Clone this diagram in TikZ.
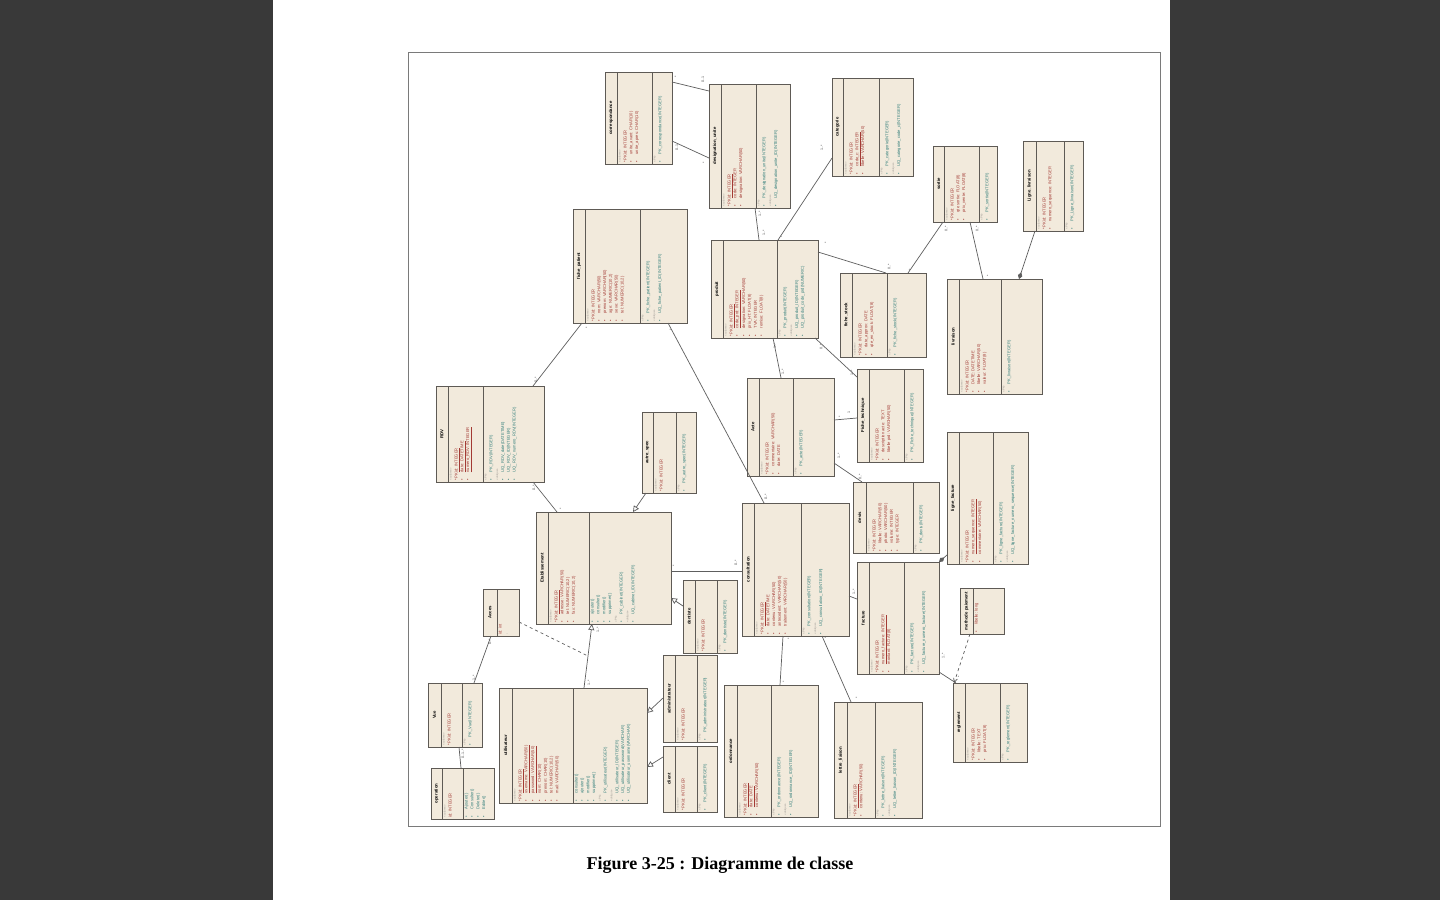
\documentclass[tikz,border=0pt]{standalone}
\usepackage{fontspec}
\setmainfont{Liberation Serif}
\newfontfamily\umlfont{Liberation Sans}
\usetikzlibrary{arrows.meta,calc}

\definecolor{sidegray}{HTML}{393939}
\definecolor{boxfill}{HTML}{F2EADC}
\definecolor{boxline}{HTML}{5E5A55}
\definecolor{attred}{HTML}{A33A34}
\definecolor{opteal}{HTML}{337F7B}
\definecolor{stgray}{HTML}{A09C96}
\definecolor{conncol}{HTML}{5E5E5E}
\definecolor{framegray}{HTML}{7A7A7A}

\newcommand\Cls[8]{%
  \node[clsbox, minimum width={(#4-#2)*1pt}, minimum height={(#5-#3)*1pt}] (#1) at ({(#2+#4)/2},{(#3+#5)/2}) {};
  \draw[divline] (#6,#3) -- (#6,#5);
  \draw[divline] (#7,#3) -- (#7,#5);
  \node[clstitle] (#1-t) at ({(#2+#6)/2},{(#3+#5)/2}) {#8};}
\newcommand\Col[4]{\node[coltext] (#1) at (#2,#3) {#4};}
\newcommand\M[4]{\node[mult] (#1) at (#2,#3) {#4};}
\newcommand\stt[1]{{\color{stgray}\fontsize{2.8}{3}\selectfont «#1»}}
\newcommand\pk{\makebox[8pt][l]{*PK}}
\newcommand\bu{\makebox[8pt][l]{•}}
\newcommand\cA[1]{\textcolor{attred}{#1}}
\newcommand\cO[1]{\textcolor{opteal}{#1}}

\begin{document}
\begin{tikzpicture}[x=1pt,y=-1pt,
  clsbox/.style={draw=boxline, fill=boxfill, line width=1pt, inner sep=0pt, outer sep=0pt, rectangle},
  divline/.style={draw=boxline, line width=0.9pt},
  clstitle/.style={rotate=90, inner sep=0pt, font=\umlfont\bfseries\fontsize{4.3}{5}\selectfont},
  coltext/.style={rotate=90, anchor=north west, align=left, inner sep=1.5pt, font=\umlfont\fontsize{4.1}{5.8}\selectfont},
  mult/.style={rotate=90, inner sep=0.5pt, text=black!70, font=\umlfont\fontsize{3.6}{4}\selectfont},
  conn/.style={draw=conncol, line width=0.7pt},
  gen/.style={-{Triangle[open,length=6pt,width=6pt,fill=white]}},
  comp/.style={-{Diamond[length=7pt,width=4.5pt]}},
  dep/.style={dashed, -{Straight Barb[length=4pt,width=4pt]}}]
\useasboundingbox (0,0) rectangle (1440,900);
\fill[sidegray] (0,0) rectangle (1440,900);
\fill[white] (273,0) rectangle (1170,900);
\node[draw=framegray, line width=0.8pt, minimum width=752pt, minimum height=774pt, inner sep=0pt, outer sep=0pt] (frame) at (784,439) {};

% ---------- classes ----------
\Cls{cor}{605}{72}{672}{164}{617}{652}{correspondance}
\Col{cor-a}{617}{164}{\stt{column}\\\cA{\pk id: INTEGER}\\\cA{\bu unite\_avant: CHAR(10)}\\\cA{\bu unite\_apres: CHAR(10)}}
\Col{cor-o}{652}{164}{\stt{PK}\\\cO{\bu PK\_correspondance(INTEGER)}}

\Cls{des}{709}{84}{790}{208}{721}{756}{designation\_unite}
\Col{des-a}{721}{208}{\stt{column}\\\cA{\pk \underline{id: INTEGER}}\\\cA{\bu code: INTEGER}\\\cA{\bu designation: VARCHAR(50)}}
\Col{des-o}{756}{208}{\stt{PK}\\\cO{\bu PK\_designation\_unite(INTEGER)}\\\stt{unique}\\\cO{\bu UQ\_designation\_unite\_ID(INTEGER)}}

\Cls{cat}{832}{78}{913}{176}{843}{879}{categorie}
\Col{cat-a}{843}{176}{\stt{column}\\\cA{\pk id: INTEGER}\\\cA{\bu \underline{code\_c: INTEGER}}\\\cA{\bu libelle: VARCHAR(50)}}
\Col{cat-o}{879}{176}{\stt{PK}\\\cO{\bu PK\_categorie(INTEGER)}\\\stt{unique}\\\cO{\bu UQ\_categorie\_code\_c(INTEGER)}}

\Cls{sor}{933}{146}{997}{222}{944}{979}{sortie}
\Col{sor-a}{944}{222}{\stt{column}\\\cA{\pk id: INTEGER}\\\cA{\bu qte sortie: FLOAT(8)}\\\cA{\bu prix\_vente: FLOAT(8)}}
\Col{sor-o}{979}{222}{\stt{PK}\\\cO{\bu PK\_sortie(INTEGER)}}

\Cls{lli}{1023}{141}{1083}{231}{1036}{1064}{Ligne\_livraison}
\Col{lli-a}{1036}{231}{\stt{column}\\\cA{\pk id: INTEGER}\\\cA{\bu numero\_sequence: INTEGER}}
\Col{lli-o}{1064}{231}{\stt{PK}\\\cO{\bu PK\_Ligne\_livraison(INTEGER)}}

\Cls{fp}{573}{209}{687}{323}{585}{640}{fiche\_patient}
\Col{fp-a}{585}{323}{\stt{column}\\\cA{\pk id: INTEGER}\\\cA{\bu nom: VARCHAR(50)}\\\cA{\bu prenom: VARCHAR(50)}\\\cA{\bu age: NUMERIC(10,2)}\\\cA{\bu sexe: VARCHAR(50)}\\\cA{\bu tel: NUMERIC(10,2)}}
\Col{fp-o}{640}{323}{\stt{PK}\\\cO{\bu PK\_fiche\_patient(INTEGER)}\\\stt{unique}\\\cO{\bu UQ\_fiche\_patient\_ID(INTEGER)}}

\Cls{pro}{711}{240}{818}{338}{723}{777}{produit}
\Col{pro-a}{723}{338}{\stt{column}\\\cA{\pk \underline{id: INTEGER}}\\\cA{\bu \underline{code\_prd: INTEGER}}\\\cA{\bu designation: VARCHAR(50)}\\\cA{\bu prix\_HT: FLOAT(8)}\\\cA{\bu TVA: INTEGER}\\\cA{\bu remise: FLOAT(8)}}
\Col{pro-o}{777}{338}{\stt{PK}\\\cO{\bu PK\_produit(INTEGER)}\\\stt{unique}\\\cO{\bu UQ\_produit\_ID(INTEGER)}\\\cO{\bu UQ\_produit\_code\_prd(NUMERIC)}}

\Cls{fs}{840}{273}{926}{357}{852}{887}{fiche\_stock}
\Col{fs-a}{852}{357}{\stt{column}\\\cA{\pk id: INTEGER}\\\cA{\bu date\_approv: DATE}\\\cA{\bu qte\_en\_stock: FLOAT(8)}}
\Col{fs-o}{887}{357}{\stt{PK}\\\cO{\bu PK\_fiche\_stock(INTEGER)}}

\Cls{liv}{947}{279}{1042}{394}{959}{1001}{livraison}
\Col{liv-a}{959}{394}{\stt{column}\\\cA{\pk id: INTEGER}\\\cA{\bu DATE: DATETIME}\\\cA{\bu libelle: VARCHAR(50)}\\\cA{\bu valeur: FLOAT(8)}}
\Col{liv-o}{1001}{394}{\stt{PK}\\\cO{\bu PK\_livraison(INTEGER)}}

\Cls{rdv}{436}{386}{544}{482}{448}{483}{RDV}
\Col{rdv-a}{448}{482}{\stt{column}\\\cA{\pk \underline{id: INTEGER}}\\\cA{\bu \underline{date: DATETIME}}\\\cA{\bu \underline{numero\_RDV: INTEGER}}}
\Col{rdv-o}{483}{482}{\stt{PK}\\\cO{\bu PK\_RDV(INTEGER)}\\\stt{unique}\\\cO{\bu UQ\_RDV\_date(DATETIME)}\\\cO{\bu UQ\_RDV\_ID(INTEGER)}\\\cO{\bu UQ\_RDV\_numero\_RDV(INTEGER)}}

\Cls{aut}{642}{412}{696}{493}{653}{676}{autre\_spec}
\Col{aut-a}{653}{493}{\stt{column}\\\cA{\pk id: INTEGER}}
\Col{aut-o}{676}{493}{\stt{PK}\\\cO{\bu PK\_autre\_spec(INTEGER)}}

\Cls{act}{747}{378}{834}{476}{759}{793}{Acte}
\Col{act-a}{759}{476}{\stt{column}\\\cA{\pk id: INTEGER}\\\cA{\bu commentaire: VARCHAR(50)}\\\cA{\bu date: DATE}}
\Col{act-o}{793}{476}{\stt{PK}\\\cO{\bu PK\_acte(INTEGER)}}

\Cls{ft}{857}{369}{923}{462}{869}{904}{Fiche\_technique}
\Col{ft-a}{869}{462}{\stt{column}\\\cA{\pk id: INTEGER}\\\cA{\bu description acte: TEXT}\\\cA{\bu libelle prd: VARCHAR(50)}}
\Col{ft-o}{904}{462}{\stt{PK}\\\cO{\bu PK\_Fiche\_technique(INTEGER)}}

\Cls{dev}{853}{482}{939}{553}{866}{913}{devis}
\Col{dev-a}{866}{553}{\stt{column}\\\cA{\pk id: INTEGER}\\\cA{\bu libelle: VARCHAR(50)}\\\cA{\bu photo: VARCHAR(50)}\\\cA{\bu volume: INTEGER}\\\cA{\bu type: INTEGER}}
\Col{dev-o}{913}{553}{\stt{PK}\\\cO{\bu PK\_devis(INTEGER)}}

\Cls{lf}{947}{432}{1028}{564}{959}{993}{ligne\_facture}
\Col{lf-a}{959}{564}{\stt{column}\\\cA{\pk id: INTEGER}\\\cA{\bu \underline{numero\_sequence: INTEGER}}\\\cA{\bu commentaire: VARCHAR(50)}}
\Col{lf-o}{993}{564}{\stt{PK}\\\cO{\bu PK\_ligne\_facture(INTEGER)}\\\stt{unique}\\\cO{\bu UQ\_ligne\_facture\_numero\_sequence(INTEGER)}}

\Cls{eta}{536}{512}{671}{624}{548}{589}{Etablissement}
\Col{eta-a}{548}{624}{\stt{column}\\\cA{\pk \underline{id: INTEGER}}\\\cA{\bu adresse: VARCHAR(50)}\\\cA{\bu tel: NUMERIC(10,2)}\\\cA{\bu fax: NUMERIC(10,2)}}
\Col{eta-o}{589}{624}{\cO{\bu ajouter()}\\\cO{\bu consulter()}\\\cO{\bu modifier()}\\\cO{\bu supprimer()}\\\stt{PK}\\\cO{\bu PK\_cabinet(INTEGER)}\\\stt{unique}\\\cO{\bu UQ\_cabinet\_ID(INTEGER)}}

\Cls{con}{742}{503}{849}{636}{754}{801}{consultation}
\Col{con-a}{754}{636}{\stt{column}\\\cA{\pk \underline{id: INTEGER}}\\\cA{\bu date: DATETIME}\\\cA{\bu contenu: VARCHAR(50)}\\\cA{\bu antecedent: VARCHAR(50)}\\\cA{\bu traitement: VARCHAR(50)}}
\Col{con-o}{801}{636}{\stt{PK}\\\cO{\bu PK\_consultation(INTEGER)}\\\stt{unique}\\\cO{\bu UQ\_consultation\_ID(INTEGER)}}

\Cls{den}{683}{580}{737}{653}{695}{717}{dentiste}
\Col{den-a}{695}{653}{\stt{column}\\\cA{\pk id: INTEGER}}
\Col{den-o}{717}{653}{\stt{PK}\\\cO{\bu PK\_dentiste(INTEGER)}}

\Cls{fac}{857}{562}{939}{674}{869}{904}{facture}
\Col{fac-a}{869}{674}{\stt{column}\\\cA{\pk id: INTEGER}\\\cA{\bu \underline{numero\_facture: INTEGER}}\\\cA{\bu montant: FLOAT(8)}}
\Col{fac-o}{904}{674}{\stt{PK}\\\cO{\bu PK\_facture(INTEGER)}\\\stt{unique}\\\cO{\bu UQ\_facture\_numero\_facture(INTEGER)}}

\Cls{mp}{960}{588}{1004}{634}{973}{973}{methode paiement}
\Col{mp-a}{973}{634}{\cA{\bu libelle: long}}

\Cls{reg}{953}{683}{1027}{762}{965}{1000}{reglement}
\Col{reg-a}{965}{762}{\stt{column}\\\cA{\pk id: INTEGER}\\\cA{\bu libelle: TEXT}\\\cA{\bu prix: FLOAT(8)}}
\Col{reg-o}{1000}{762}{\stt{PK}\\\cO{\bu PK\_reglement(INTEGER)}}

\Cls{acc}{483}{589}{519}{636}{497}{497}{Acces}
\Col{acc-a}{497}{636}{\cA{id: int}\\ \textcolor{black!60}{.}}

\Cls{vue}{428}{683}{482}{747}{441}{462}{Vue}
\Col{vue-a}{441}{747}{\stt{column}\\\cA{\pk id: INTEGER}}
\Col{vue-o}{462}{747}{\stt{PK}\\\cO{\bu PK\_Vue(INTEGER)}}

\Cls{ope}{431}{768}{494}{819}{442}{463}{operation}
\Col{ope-a}{442}{819}{\stt{column}\\\cA{id: INTEGER}}
\Col{ope-o}{463}{819}{\cO{\bu Ajouter()}\\\cO{\bu Consulter()}\\\cO{\bu Deleter()}\\\cO{\bu Editer()}}

\Cls{uti}{499}{688}{647}{803}{512}{573}{utilisateur}
\Col{uti-a}{512}{803}{\stt{column}\\\cA{\pk \underline{id: INTEGER}}\\\cA{\bu \underline{username: VARCHAR(50)}}\\\cA{\bu \underline{password: VARCHAR(50)}}\\\cA{\bu nom: CHAR(10)}\\\cA{\bu prenom: CHAR(10)}\\\cA{\bu tel: NUMERIC(10,2)}\\\cA{\bu mail: VARCHAR(50)}}
\Col{uti-o}{573}{803}{\cO{\bu consulter()}\\\cO{\bu ajouter()}\\\cO{\bu modifier()}\\\cO{\bu supprimer()}\\\stt{PK}\\\cO{\bu PK\_utilisateur(INTEGER)}\\\stt{unique}\\\cO{\bu UQ\_utilisateur\_ID(INTEGER)}\\\cO{\bu UQ\_utilisateur\_password(VARCHAR)}\\\cO{\bu UQ\_utilisateur\_username(VARCHAR)}}

\Cls{adm}{663}{655}{717}{742}{675}{697}{administrateur}
\Col{adm-a}{675}{742}{\stt{column}\\\cA{\pk id: INTEGER}}
\Col{adm-o}{697}{742}{\stt{PK}\\\cO{\bu PK\_administrateur(INTEGER)}}

\Cls{cli}{663}{746}{717}{812}{675}{697}{client}
\Col{cli-a}{675}{812}{\stt{column}\\\cA{\pk id: INTEGER}}
\Col{cli-o}{697}{812}{\stt{PK}\\\cO{\bu PK\_client(INTEGER)}}

\Cls{ord}{724}{685}{818}{817}{737}{771}{ordonnance}
\Col{ord-a}{737}{817}{\stt{column}\\\cA{\pk \underline{id: INTEGER}}\\\cA{\bu \underline{date: DATE}}\\\cA{\bu contenu: VARCHAR(50)}}
\Col{ord-o}{771}{817}{\stt{PK}\\\cO{\bu PK\_ordonnance(INTEGER)}\\\stt{unique}\\\cO{\bu UQ\_ordonnance\_ID(INTEGER)}}

\Cls{ll}{834}{702}{922}{818}{847}{875}{lettre\_liaison}
\Col{ll-a}{847}{818}{\stt{column}\\\cA{\pk \underline{id: INTEGER}}\\\cA{\bu contenu: VARCHAR(50)}}
\Col{ll-o}{875}{818}{\stt{PK}\\\cO{\bu PK\_lettre\_liaison(INTEGER)}\\\stt{unique}\\\cO{\bu UQ\_lettre\_liaison\_ID(INTEGER)}}

% ---------- connectors ----------
\draw[conn] ($(cor.north west)+(67,10)$) -- ($(des.north west)+(0,7)$);
\draw[conn] ($(cor.north west)+(67,69)$) -- ($(des.north west)+(0,74)$);
\draw[conn] ($(des.north west)+(46,124)$) -- ($(pro.north west)+(48,0)$);
\draw[conn] ($(cat.north west)+(0,80)$) -- ($(pro.north west)+(67,0)$);
\draw[conn] ($(pro.north west)+(107,12)$) -- ($(fs.north west)+(46,0)$);
\draw[conn] ($(sor.north west)+(10,76)$) -- ($(fs.north west)+(68,0)$);
\draw[conn] ($(sor.north west)+(37,76)$) -- ($(liv.north west)+(36,0)$);
\draw[conn, comp] ($(lli.north west)+(12,90)$) -- ($(liv.north west)+(72,0)$);
\draw[conn] ($(pro.north west)+(62,98)$) -- ($(act.north west)+(34,0)$);
\draw[conn] ($(pro.north west)+(104,98)$) -- ($(ft.north west)+(0,8)$);
\draw[conn] ($(act.north west)+(87,42)$) -- ($(ft.north west)+(0,49)$);
\draw[conn] ($(act.north west)+(87,85)$) -- ($(dev.north west)+(9,0)$);
\draw[conn] ($(fp.north west)+(9,114)$) -- ($(rdv.north west)+(97,0)$);
\draw[conn] ($(fp.north west)+(95,114)$) -- ($(con.north west)+(22,0)$);
\draw[conn] ($(rdv.north west)+(97,96)$) -- ($(eta.north west)+(21,0)$);
\draw[conn, gen] ($(aut.north west)+(4,81)$) -- ($(eta.north west)+(97,0)$);
\draw[conn] ($(eta.north west)+(135,59)$) -- ($(con.north west)+(0,68)$);
\draw[conn, gen] ($(den.north west)+(0,26)$) -- ($(eta.north west)+(135,86)$);
\draw[conn, gen] ($(uti.north west)+(85,0)$) -- coordinate[pos=0.5] (am) ($(eta.north west)+(56,112)$);
\draw[conn, dashed] ($(acc.north west)+(36,33)$) -- (am);
\draw[conn] ($(acc.north west)+(8,47)$) -- ($(vue.north west)+(46,0)$);
\draw[conn] ($(vue.north west)+(31,64)$) -- ($(ope.north west)+(30,0)$);
\draw[conn, gen] ($(adm.north west)+(0,43)$) -- ($(uti.north west)+(148,25)$);
\draw[conn, gen] ($(cli.north west)+(0,11)$) -- ($(uti.north west)+(148,79)$);
\draw[conn] ($(con.north west)+(41,133)$) -- ($(ord.north west)+(56,0)$);
\draw[conn] ($(con.north west)+(80,133)$) -- ($(ll.north west)+(17,0)$);
\draw[conn] ($(con.north west)+(107,93)$) -- ($(fac.north west)+(0,37)$);
\draw[conn, {Diamond[length=7pt,width=4.5pt]}-] ($(fac.north west)+(82,0)$) -- ($(lf.north west)+(0,123)$);
\draw[conn] ($(fac.north west)+(82,110)$) -- ($(reg.north west)+(3,0)$);
\draw[conn, dep] ($(mp.north west)+(10,46)$) -- ($(reg.north west)+(1,0)$);

% ---------- multiplicities ----------
\M{m1}{676}{77}{*}
\M{m2}{703}{79}{0..1}
\M{m3}{677}{147}{0..1}
\M{m4}{704}{163}{*}
\M{m5}{760}{214}{1..*}
\M{m6}{764}{233}{1..*}
\M{m7}{782}{237}{*}
\M{m7b}{822}{148}{1..*}
\M{m8}{826}{243}{*}
\M{m9}{889}{267}{0..*}
\M{m10}{910}{270}{*}
\M{m11}{946}{229}{0..*}
\M{m12}{977}{229}{0..*}
\M{m13}{988}{276}{*}
\M{m14}{775}{346}{1..*}
\M{m15}{783}{372}{1..*}
\M{m16}{821}{347}{0..*}
\M{m17}{852}{373}{1..*}
\M{m18}{840}{417}{*}
\M{m19}{849}{412}{1}
\M{m20}{839}{456}{1..*}
\M{m21}{860}{477}{0..*}
\M{m22}{587}{328}{*}
\M{m23}{536}{380}{0..*}
\M{m24}{671}{330}{*}
\M{m25}{766}{497}{0..*}
\M{m26}{534}{488}{0..*}
\M{m27}{561}{509}{*}
\M{m28}{674}{566}{*}
\M{m29}{736}{563}{0..*}
\M{m30}{598}{630}{1..*}
\M{m31}{589}{683}{1..*}
\M{m32}{490}{642}{0..*}
\M{m33}{474}{678}{1..*}
\M{m34}{463}{754}{0..1..*}
\M{m35}{789}{639}{*}
\M{m36}{784}{682}{*}
\M{m37}{826}{638}{*}
\M{m38}{857}{698}{*}
\M{m39}{854}{592}{1..*}
\M{m40}{943}{656}{1..*}
\M{m41}{959}{677}{*}

\node[font=\bfseries\fontsize{18}{20}\selectfont, inner sep=0pt] (cap) at (720,865) {Figure 3-25 : Diagramme de classe};
\end{tikzpicture}
\end{document}
